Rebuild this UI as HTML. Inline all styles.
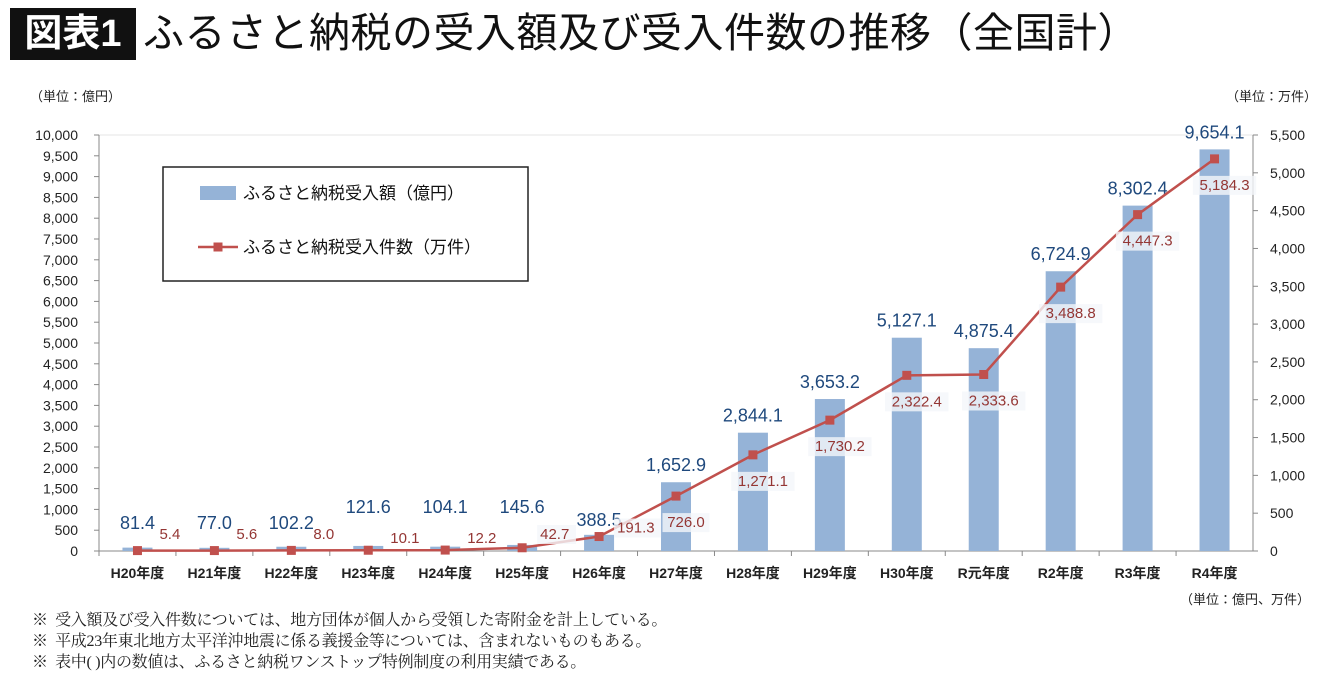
<!DOCTYPE html>
<html><head><meta charset="utf-8"><style>
body{margin:0;background:#fff;width:1340px;height:680px;overflow:hidden;font-family:"Liberation Sans","Noto Sans CJK JP",sans-serif;position:relative}
.abs{position:absolute;white-space:nowrap}
</style></head><body>
<div class="abs" style="left:10px;top:8px;width:126px;height:52px;background:#111;color:#fff;font-size:38px;line-height:52px;text-align:center;font-weight:bold">図表1</div>
<div class="abs" style="left:143px;top:7px;font-size:41px;line-height:52px;color:#111;letter-spacing:0.5px">ふるさと納税の受入額及び受入件数の推移（全国計）</div>
<div class="abs" style="left:30px;top:86px;font-size:13px;color:#222">（単位：億円）</div>
<div class="abs" style="left:1226px;top:86px;font-size:13px;color:#222">（単位：万件）</div>
<div class="abs" style="left:1180px;top:589px;font-size:13px;color:#222">（単位：億円、万件）</div>
<div class="abs" style="left:32px;top:610px;font-size:16px;line-height:21px;color:#222;font-family:'Liberation Serif','Noto Serif CJK SC',serif;letter-spacing:-0.3px">
<div>※&nbsp; 受入額及び受入件数については、地方団体が個人から受領した寄附金を計上している。</div>
<div>※&nbsp; 平成23年東北地方太平洋沖地震に係る義援金等については、含まれないものもある。</div>
<div>※&nbsp; 表中( )内の数値は、ふるさと納税ワンストップ特例制度の利用実績である。</div>
</div>
<svg id="chart" width="1340" height="680" style="position:absolute;left:0;top:0"></svg>
<script>
const categories=["H20年度","H21年度","H22年度","H23年度","H24年度","H25年度","H26年度","H27年度","H28年度","H29年度","H30年度","R元年度","R2年度","R3年度","R4年度"];
const amounts=[81.4,77.0,102.2,121.6,104.1,145.6,388.5,1652.9,2844.1,3653.2,5127.1,4875.4,6724.9,8302.4,9654.1];
const counts=[5.4,5.6,8.0,10.1,12.2,42.7,191.3,726.0,1271.1,1730.2,2322.4,2333.6,3488.8,4447.3,5184.3];
const leftTicks=[0,500,1000,1500,2000,2500,3000,3500,4000,4500,5000,5500,6000,6500,7000,7500,8000,8500,9000,9500,10000];
const rightTicks=[0,500,1000,1500,2000,2500,3000,3500,4000,4500,5000,5500];
const NS="http://www.w3.org/2000/svg",svg=document.getElementById("chart");
const X0=99,X1=1253,Y0=551,Y1=135;
const step=(X1-X0)/categories.length;
const xc=i=>X0+step*(i+0.5);
const yl=v=>Y0-(v/10000)*(Y0-Y1);
const yr=v=>Y0-(v/5500)*(Y0-Y1);
const fmt=v=>v.toLocaleString("en-US",{minimumFractionDigits:1,maximumFractionDigits:1});
const fmtI=v=>v.toLocaleString("en-US");
function el(t,a,p){const e=document.createElementNS(NS,t);for(const k in a)e.setAttribute(k,a[k]);(p||svg).appendChild(e);return e;}
leftTicks.forEach(v=>{
  const t=el("text",{x:78,y:yl(v)+5,"text-anchor":"end","font-size":14,fill:"#222"});t.textContent=fmtI(v);
  
  
  el("line",{x1:X0-5,x2:X0,y1:yl(v),y2:yl(v),stroke:"#888"});
});
rightTicks.forEach(v=>{
  const t=el("text",{x:1270,y:yr(v)+5,"font-size":14,fill:"#222"});t.textContent=fmtI(v);
  
  
  el("line",{x1:X1,x2:X1+5,y1:yr(v),y2:yr(v),stroke:"#888"});
});
el("line",{x1:X0,x2:X1,y1:Y1,y2:Y1,stroke:"#e4e4e4"});
el("line",{x1:X0,x2:X0,y1:Y1,y2:Y0,stroke:"#888"});
el("line",{x1:X1,x2:X1,y1:Y1,y2:Y0,stroke:"#888"});
el("line",{x1:X0,x2:X1,y1:Y0,y2:Y0,stroke:"#888"});
categories.forEach((c,i)=>{
  el("line",{x1:X0+step*i,x2:X0+step*i,y1:Y0,y2:Y0+5,stroke:"#888"});
  const t=el("text",{x:xc(i),y:578,"text-anchor":"middle","font-size":14,fill:"#222","font-weight":"bold"});t.textContent=c;
  
  
});
amounts.forEach((v,i)=>{
  const r=el("rect",{x:xc(i)-15,y:yl(v),width:30,height:Y0-yl(v),fill:"#95b3d7"});
  
  
  const t=el("text",{x:xc(i),y:Math.min(yl(v)-11,Y0-22)-(i>=3&&i<=5?16:0)-(i==6?-2:0),"text-anchor":"middle","font-size":18,fill:"#1f497d"});t.textContent=fmt(v);
  
  
});
const pts=counts.map((v,i)=>xc(i)+","+yr(v)).join(" ");
const pl=el("polyline",{points:pts,fill:"none",stroke:"#c0504d","stroke-width":2.5});


counts.forEach((v,i)=>{
  const m=el("rect",{x:xc(i)-4.5,y:yr(v)-4.5,width:9,height:9,fill:"#c0504d"});
  
  
  let tx,ty,anchor;
  if(i<=6){tx=xc(i)+(i>=5?18:22);ty=Math.min(yr(v)-4,Y0-12);anchor="start";if(i>=3&&i<=4)ty=Y0-8;}
  else{tx=xc(i)+10;ty=yr(v)+31;anchor="middle";}
  const s=fmt(v);
  if(i>=5){const w=s.length*8.2+6;const b=el("rect",{x:anchor=="middle"?tx-w/2:tx-3,y:ty-14,width:w,height:19,fill:"#f4f6fa","fill-opacity":0.8});}
  const t=el("text",{x:tx,y:ty,"text-anchor":anchor,"font-size":15,fill:"#943634"});t.textContent=s;
  
  
});
const lg=el("g",{});


el("rect",{x:163,y:167,width:365,height:114,fill:"#fff",stroke:"#222","stroke-width":1.5},lg);
el("rect",{x:200,y:186,width:36,height:14,fill:"#95b3d7"},lg);
const l1=el("text",{x:243,y:199,"font-size":17,fill:"#111"},lg);l1.textContent="ふるさと納税受入額（億円）";


el("line",{x1:198,x2:238,y1:247,y2:247,stroke:"#c0504d","stroke-width":2.5},lg);
el("rect",{x:213.5,y:242.5,width:9,height:9,fill:"#c0504d"},lg);
const l2=el("text",{x:243,y:253,"font-size":17,fill:"#111"},lg);l2.textContent="ふるさと納税受入件数（万件）";


</script>
</body></html>
